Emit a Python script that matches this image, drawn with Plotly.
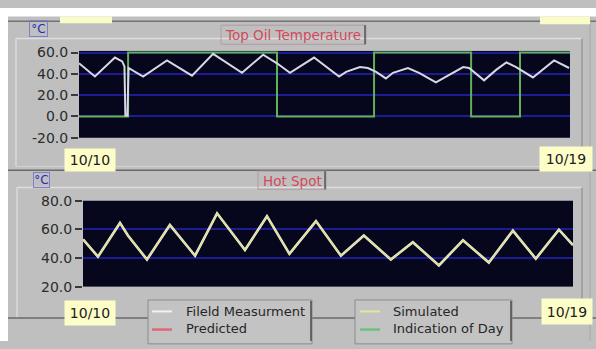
import plotly.graph_objects as go

# ---- data -------------------------------------------------------------
# time axis: hours since 10/10 00:00 (the window runs to 10/19)
top_hours = [0, 7, 15.8, 19, 20.0, 20.4, 21.3, 21.8, 28.2, 38.7, 49.7, 59, 71.7, 81,
             87.1, 92.8, 103.4, 114.4, 117.5, 123.6, 127.1, 130.7, 135, 138.1, 144.7,
             149.6, 157, 162.8, 169, 171.6, 178.2, 183.5, 188, 192.3, 199.7, 209, 215.6]
top_oil_measured = [49.9, 37.5, 55.3, 51.7, 47, 1, 1, 45.5, 37.5, 52.6, 38.3, 58.8, 41, 58,
                    49.9, 41, 55.3, 37.5, 41.9, 46.4, 45.5, 41.9, 35.7, 41, 45.5,
                    41, 32.1, 39.2, 46.4, 45.5, 33.9, 43.7, 50.8, 46.4, 36.6, 52.6, 45.5]

day_hours = [0, 21.6, 87.1, 129.8, 172.5, 194.0, 216]
day_flag = [0, 60, 0, 60, 0, 60, 60]

hot_hours = [0, 6.6, 16.3, 19.8, 28.2, 38.3, 49.4, 59.1, 71.4, 81.1, 91.0, 102.7, 113.7,
             123.8, 135.7, 145.4, 156.9, 167.5, 178.9, 189.5, 199.6, 209.8, 216]
hot_spot_measured = [53.0, 40.9, 64.5, 55.7, 38.9, 63.1, 41.6, 71.2, 45.6, 69.2, 42.9, 65.8,
                     41.6, 55.7, 38.9, 51.0, 34.8, 52.4, 36.8, 59.1, 39.5, 59.8, 49.0]
hot_spot_simulated = hot_spot_measured

top_ticks = [-20, 0, 20, 40, 60]
top_ticktext = ["-20.0", "0.0", "20.0", "40.0", "60.0"]
hot_ticks = [20, 40, 60, 80]
hot_ticktext = ["20.0", "40.0", "60.0", "80.0"]

start_label, end_label = "10/10", "10/19"

# ---- helpers: pixel -> paper coordinates --------------------------------
W, H = 596, 349
def fx(x):
    return x / W
def fy(y):
    return 1 - y / H

FONT = "DejaVu Sans"
PANEL = "#bfbfbf"
PLOT_BG = "#06061c"
GRID = "#1c1c96"

fig = go.Figure()

fig.add_trace(go.Scatter(x=day_hours, y=day_flag, mode="lines", line_shape="hv",
                         line=dict(color="#62b058", width=2), xaxis="x", yaxis="y",
                         name="Indication of Day"))
fig.add_trace(go.Scatter(x=top_hours, y=top_oil_measured, mode="lines",
                         line=dict(color="#d8d8e2", width=2), xaxis="x", yaxis="y",
                         name="Fileld Measurment"))
fig.add_trace(go.Scatter(x=hot_hours, y=hot_spot_measured, mode="lines",
                         line=dict(color="#f0f0e8", width=2.6), xaxis="x2", yaxis="y2",
                         name="Fileld Measurment"))
fig.add_trace(go.Scatter(x=hot_hours, y=hot_spot_simulated, mode="lines",
                         line=dict(color="#dede88", width=1.3), xaxis="x2", yaxis="y2",
                         name="Simulated"))

yaxis_common = dict(showgrid=True, gridcolor=GRID, gridwidth=2, zeroline=False,
                    ticks="outside", ticklen=7, tickwidth=1.5, tickcolor="#3a3a3a",
                    tickfont=dict(family=FONT, size=14, color="#2c2c2c"),
                    showline=False, fixedrange=True)

fig.update_layout(
    width=W, height=H,
    margin=dict(l=0, r=0, t=0, b=0),
    paper_bgcolor=PANEL,
    plot_bgcolor=PLOT_BG,
    showlegend=False,
    xaxis=dict(domain=[fx(79), fx(570)], range=[0, 216], visible=False, anchor="y"),
    yaxis=dict(domain=[fy(136), fy(45)], range=[-20, 61.5], anchor="x",
               tickvals=top_ticks, ticktext=top_ticktext, **yaxis_common),
    xaxis2=dict(domain=[fx(83), fx(573)], range=[0, 216], visible=False, anchor="y2"),
    yaxis2=dict(domain=[fy(292), fy(202)], range=[20, 80], anchor="x2",
                tickvals=hot_ticks, ticktext=hot_ticktext, **yaxis_common),
)

shapes = []
def rect(x0, y0, x1, y1, fill=None, line=None, lw=1, layer="below"):
    shapes.append(dict(type="rect", xref="paper", yref="paper",
                       x0=fx(x0), x1=fx(x1), y0=fy(y1), y1=fy(y0),
                       fillcolor=fill if fill else "rgba(0,0,0,0)",
                       line=dict(color=line if line else "rgba(0,0,0,0)", width=lw if line else 0),
                       layer=layer))
def hline(x0, x1, y, color, lw=1):
    shapes.append(dict(type="line", xref="paper", yref="paper",
                       x0=fx(x0), x1=fx(x1), y0=fy(y), y1=fy(y),
                       line=dict(color=color, width=lw), layer="below"))
def vline(x, y0, y1, color, lw=1):
    shapes.append(dict(type="line", xref="paper", yref="paper",
                       x0=fx(x), x1=fx(x), y0=fy(y0), y1=fy(y1),
                       line=dict(color=color, width=lw), layer="below"))

# white margins around the window
rect(0, 0, 596, 9, fill="white", layer="above")
rect(0, 0, 8, 349, fill="white", layer="above")
# top panel frame
hline(8, 596, 14, "#727272", 1.5)
hline(16, 582, 32, "#dedede", 1.5)
vline(16, 32, 166, "#dadada", 1.5)
vline(582, 32, 166, "#9a9a9a", 1.5)
hline(16, 582, 166, "#d4d4d4", 1)
hline(8, 596, 170, "#6a6a6a", 1.5)
# bottom panel frame
hline(17, 582, 188, "#dedede", 1.5)
vline(17, 188, 325, "#dadada", 1.5)
vline(582, 188, 321, "#9a9a9a", 1.5)
hline(8, 596, 325, "#6a6a6a", 1.5)
vline(590, 9, 349, "#a8a8a8", 1)
# clipped yellow edit boxes at the very top
rect(60, 9, 112, 16, fill="#fbfbc8")
rect(540, 9, 590, 17, fill="#fbfbc8")
# legend boxes
rect(148, 306, 312, 352, fill="#c3c3c3", line="#8c8c8c")
vline(311, 307, 349, "#4a4a4a", 1.5)
rect(355, 306, 512, 352, fill="#c3c3c3", line="#8c8c8c")
vline(511, 307, 349, "#4a4a4a", 1.5)
hline(152, 172, 318, "#f2f2f2", 2)
hline(152, 172, 337, "#e0687a", 2.5)
hline(360, 380, 318, "#e6e69a", 2)
hline(360, 380, 337, "#6cc080", 2.5)
# title outlines
rect(221, 18, 366, 38, line="#b09aa2")
vline(365, 18, 38, "#555555", 1.5)
rect(258, 171, 326, 190, line="#b09aa2")
vline(325, 171, 190, "#555555", 1.5)
fig.update_layout(shapes=shapes)

annotations = []
def label(text, cx, cy, size, color, w=None, h=None, bg=None, border=None, anchor="center"):
    a = dict(text=text, xref="paper", yref="paper", x=fx(cx), y=fy(cy),
             xanchor=anchor, yanchor="middle", showarrow=False,
             font=dict(family=FONT, size=size, color=color), borderpad=0)
    if w:
        a["width"] = w
    if h:
        a["height"] = h
    if bg:
        a["bgcolor"] = bg
    if border:
        a["bordercolor"] = border
        a["borderwidth"] = 1
    annotations.append(a)

# unit tags
label("°C", 38, 22, 12, "#2a2ab8", w=17, h=15, border="#8080c8")
label("°C", 41, 180, 12, "#2a2ab8", w=15, h=14, border="#8080c8")
# chart titles
label("Top Oil Temperature", 293, 28, 13.5, "#d24a5c")
label("Hot Spot", 292, 181, 13.5, "#d24a5c")
# time range tags
label(start_label, 90, 159, 14, "#202020", w=50, h=22, bg="#fdfdc8")
label(end_label, 566, 158, 14, "#202020", w=52, h=24, bg="#fdfdc8")
label(start_label, 90, 320, 14, "#202020", w=50, h=24, bg="#fdfdc8")
label(end_label, 567, 318, 14, "#202020", w=50, h=25, bg="#fdfdc8")
# legend text
label("Fileld Measurment", 185, 318, 13, "#262626", anchor="left")
label("Predicted", 185, 336, 13, "#262626", anchor="left")
label("Simulated", 392, 318, 13, "#262626", anchor="left")
label("Indication of Day", 392, 336, 13, "#262626", anchor="left")
fig.update_layout(annotations=annotations)

fig.write_html("out.html")
